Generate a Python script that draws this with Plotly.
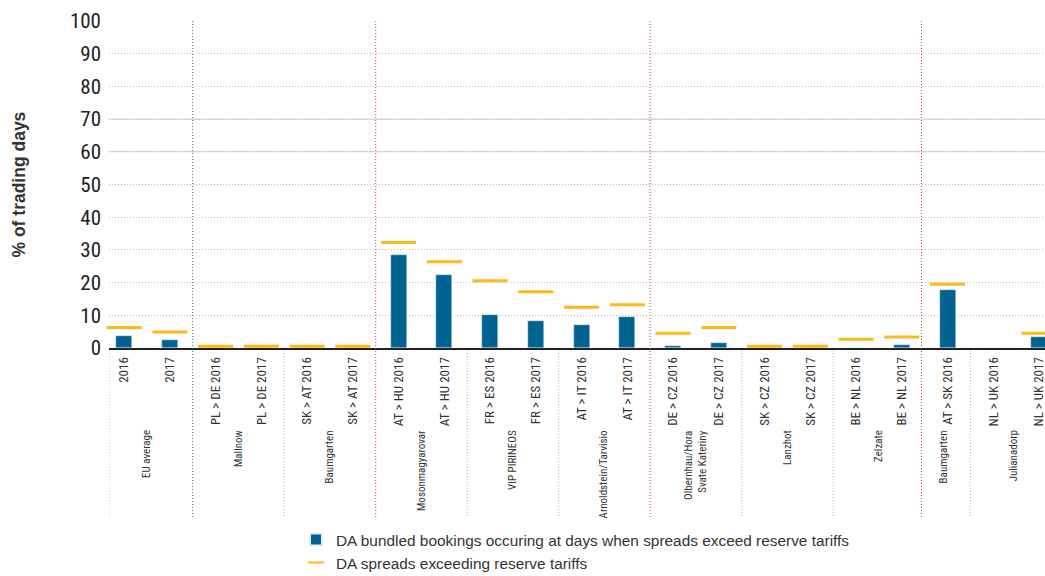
import plotly.graph_objects as go

categories = ["2016", "2017", "PL > DE 2016", "PL > DE 2017", "SK > AT 2016", "SK > AT 2017",
              "AT > HU 2016", "AT > HU 2017", "FR > ES 2016", "FR > ES 2017",
              "AT > IT 2016", "AT > IT 2017", "DE > CZ 2016", "DE > CZ 2017",
              "SK > CZ 2016", "SK > CZ 2017", "BE > NL 2016", "BE > NL 2017",
              "AT > SK 2016", "NL > UK 2016", "NL > UK 2017"]
bookings = [3.7, 2.4, 0, 0, 0, 0, 28.4, 22.3, 10.1, 8.3, 7.0, 9.5, 0.6, 1.5, 0, 0, 0, 0.9, 17.7, 0, 3.4]
spreads = [6.3, 4.9, 0.5, 0.5, 0.5, 0.5, 32.3, 26.4, 20.6, 17.2, 12.5, 13.2, 4.5, 6.3, 0.5, 0.5, 2.7, 3.4, 19.5, None, 4.5]

groups = ["EU average", "Mallnow", "Baumgarten", "Mosonmagyarovar", "VIP PIRINEOS",
          "Arnoldstein/Tarvisio", "Olbernhau/Hora<br>Svate Kateriny", "Lanzhot", "Zelzate",
          "Baumgarten", "Julianadorp"]
group_centers = [0.5, 2.5, 4.5, 6.5, 8.5, 10.5, 12.5, 14.5, 16.5, 17.92, 19.45]
gray_bounds = [-0.33, 3.5, 7.5, 9.5, 13.5, 15.5, 18.5]
blue_bounds = [1.5]
red_bounds = [5.5, 11.5, 17.43]

BLUE = "#00628F"
YEL = "#FDB81E"
NARROW = "Roboto Condensed, Liberation Sans Narrow, Arial Narrow, Liberation Sans, sans-serif"
REG = "Liberation Sans, Arial, sans-serif"
DOT = "1px,2px"

fig = go.Figure()
fig.add_trace(go.Bar(x=categories, y=bookings, width=0.35, marker_color=BLUE, cliponaxis=False,
                     name="DA bundled bookings occuring at days when spreads exceed reserve tariffs"))
fig.add_trace(go.Scatter(x=categories, y=spreads, mode="markers", cliponaxis=False,
                         marker=dict(symbol="line-ew", size=25, color=YEL, line=dict(width=3, color=YEL)),
                         name="DA spreads exceeding reserve tariffs"))

shapes = []
LOW = -0.517
for b in gray_bounds:
    shapes.append(dict(type="line", xref="x", yref="paper", x0=b, x1=b, y0=-0.006, y1=LOW,
                       line=dict(color="#b0b0b0", width=1, dash=DOT)))
for b in blue_bounds:
    shapes.append(dict(type="line", xref="x", yref="paper", x0=b, x1=b, y0=1, y1=LOW,
                       line=dict(color="#1f6a98", width=1, dash=DOT)))
for b in red_bounds:
    shapes.append(dict(type="line", xref="x", yref="paper", x0=b, x1=b, y0=1, y1=LOW,
                       line=dict(color="#d0485a", width=1, dash=DOT)))
for v in [60, 70]:
    shapes.append(dict(type="line", xref="paper", yref="y", x0=0, x1=1, y0=v, y1=v,
                       line=dict(color="#cfcfcf", width=1), layer="below"))

annotations = []
for g, c in zip(groups, group_centers):
    annotations.append(dict(x=c, y=-0.2446, xref="x", yref="paper", text=g, textangle=-90,
                            showarrow=False, xanchor="center", yanchor="top", align="right",
                            font=dict(family=NARROW, size=11, color="#333333")))
annotations.append(dict(x=(18 - 109) / 936, y=0.5, xref="paper", yref="paper",
                        text="<b>% of trading days</b>", textangle=-90, showarrow=False,
                        xanchor="center", yanchor="middle",
                        font=dict(family=REG, size=17.5, color="#333333")))

fig.update_layout(
    width=1045, height=576,
    margin=dict(l=109, r=0, t=21, b=228, autoexpand=False),
    paper_bgcolor="white", plot_bgcolor="white",
    showlegend=True,
    legend=dict(x=(296 - 109) / 936, y=(348 - 523) / 327, xanchor="left", yanchor="top",
                orientation="v", font=dict(family=REG, size=15.4, color="#333333"),
                itemsizing="constant", bgcolor="rgba(0,0,0,0)", tracegroupgap=0),
    shapes=shapes, annotations=annotations,
    bargap=0,
)
fig.update_xaxes(type="category", range=[-0.33, 20.13], tickangle=-90, automargin=False,
                 tickfont=dict(family=NARROW, size=13, color="#333333"),
                 showgrid=False, showline=True, linecolor="#222222", linewidth=2,
                 ticks="", zeroline=False, ticklabelstandoff=2)
fig.update_yaxes(range=[0, 100], dtick=10, showgrid=True, gridcolor="#bdbdbd", griddash=DOT,
                 gridwidth=1, zeroline=False, showline=False, ticks="", automargin=False,
                 ticklabelstandoff=7,
                 tickfont=dict(family=NARROW, size=21, color="#222222"))

fig.write_html("out.html", config={"displayModeBar": False},
               post_script="document.body.style.margin='0px';document.body.style.overflow='hidden';")
